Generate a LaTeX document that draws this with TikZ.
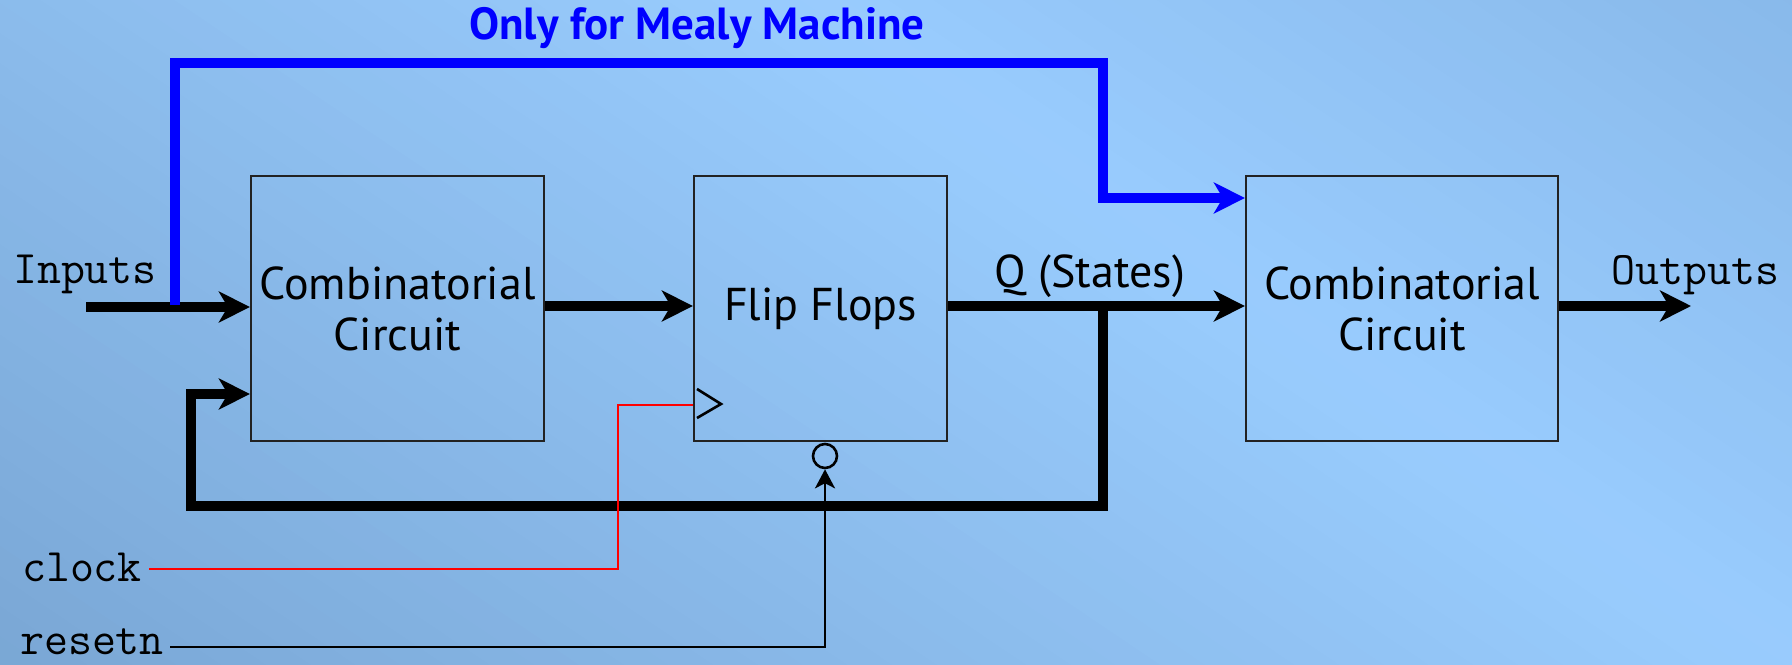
\documentclass[tikz,border=0pt]{standalone}
\usepackage{fontspec}
\setmainfont{PT Sans}
\usetikzlibrary{arrows.meta}
\definecolor{bgdark}{RGB}{122,167,213}
\definecolor{bglight}{RGB}{153,204,254}
\definecolor{bgtop}{RGB}{124,170,218}
\definecolor{boxline}{RGB}{34,34,34}
\begin{document}
\begin{tikzpicture}[x=0.5pt,y=-0.5pt,
 blk/.style={draw=boxline, line width=1.15pt, inner sep=0, align=center, font=\fontsize{23}{25.5}\selectfont},
 lbl/.style={font=\ttfamily\fontsize{23.3}{25}\selectfont, inner sep=0},
 bus/.style={line width=5pt, -{Stealth[length=15.5pt,width=15.5pt,inset=4.5pt]}},
 mealy/.style={line width=5pt, draw=blue, color=blue, -{Stealth[length=15.5pt,width=15.5pt,inset=4.5pt]}},
 clkline/.style={draw=red, line width=1.3pt},
 rstline/.style={line width=1.3pt, -{Stealth[length=9.5pt,width=10pt,inset=2.5pt]}},
 symline/.style={line width=1.3pt}]
\useasboundingbox (0,0) rectangle (1792,664);
% background gradient drawn as strips
\begin{scope}
\clip (0,0) rectangle (1792,664);
\foreach \i in {0,...,79}{
  \pgfmathsetmacro\ta{-1000+25*\i}
  \pgfmathsetmacro\tb{\ta+27}
  \pgfmathsetmacro\tm{\ta+12.5}
  \pgfmathsetmacro\pc{100-abs(\tm)/10}
  \ifdim\tm pt<0pt \colorlet{stripc}{bglight!\pc!bgdark}\else\colorlet{stripc}{bglight!\pc!bgtop}\fi
  \fill[stripc] ({800+0.559*\ta-1658},{-0.829*\ta-1118}) -- ({800+0.559*\ta+1658},{-0.829*\ta+1118})
     -- ({800+0.559*\tb+1658},{-0.829*\tb+1118}) -- ({800+0.559*\tb-1658},{-0.829*\tb-1118}) -- cycle;
}
\end{scope}

% blocks
\node[blk, minimum width=146.5pt, minimum height=132.5pt] (cc1) at (397.5,308.5) {Combinatorial\\Circuit};
\node[blk, minimum width=126.5pt, minimum height=132.5pt] (ff) at (820.5,308.5) {Flip Flops};
\node[blk, minimum width=156pt, minimum height=132.5pt] (cc2) at (1402,308.5) {Combinatorial\\Circuit};

% labels
\node[font=\bfseries\fontsize{22.5}{26}\selectfont, text=blue] (title) at (697,28) {Only for Mealy Machine};
\node[font=\fontsize{23}{26}\selectfont] (qlbl) at (1090,276) {Q (States)};
\node[lbl, anchor=base] (inputs) at (85,283) {Inputs};
\node[lbl, anchor=base] (outputs) at (1695,284) {Outputs};
\node[lbl, anchor=base, inner xsep=3.5pt] (clock) at (82,581) {clock};
\node[lbl, anchor=base, inner xsep=3pt] (resetn) at (92,654) {resetn};

% coordinates
\coordinate (in) at (86,307);
\coordinate (out) at (1691,306);
\coordinate (tap) at (1103,306);
\coordinate (fbbot) at (1103,506);
\coordinate (fbc) at (191,394);
\coordinate (mstart) at (175,305);
\coordinate (mtop) at (1103,63);
\coordinate (mdown) at (1103,198);
\coordinate (clkc) at (618,405);
\coordinate (clky) at (0,569);
\coordinate (rsty) at (0,647);

% bus arrows
\draw[bus] (in) -- (in -| cc1.west);
\draw[bus] (cc1.east |- 0,306) -- (ff.west |- 0,306);
\draw[bus] (ff.east |- 0,306) -- (cc2.west |- 0,306);
\draw[bus] (cc2.east |- 0,306) -- (out);
\draw[bus] (tap) -- (fbbot) -| (fbc) -- (fbc -| cc1.west);

% Mealy path
\draw[mealy] (mstart) |- (mtop) -- (mdown) -- (mdown -| cc2.west);

% clock
\draw[clkline] (clock.east |- clky) -| (clkc) -- (clkc -| ff.west);
\draw[symline] (697,389) -- (721,404) -- (697,418);

% reset
\node[circle, draw, line width=1.3pt, minimum size=12pt, inner sep=0] (bub) at (825,456) {};
\draw[rstline] (resetn.east |- rsty) -| (bub.south);
\end{tikzpicture}
\end{document}
